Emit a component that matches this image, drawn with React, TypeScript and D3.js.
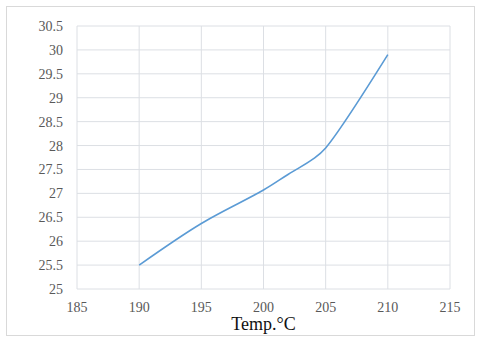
import { useRef, useEffect } from 'react';
import * as d3 from 'd3';

// temperature (°C) vs measured value
const temps = [190, 195, 200, 202, 204, 205, 210];
const values = [25.5, 26.37, 27.07, 27.4, 27.72, 27.95, 29.9];

const xTicks = [185, 190, 195, 200, 205, 210, 215];
const yTicks = [25, 25.5, 26, 26.5, 27, 27.5, 28, 28.5, 29, 29.5, 30, 30.5];

const W = 480;
const H = 342;

export default function App() {
  const svgRef = useRef<SVGSVGElement>(null);

  useEffect(() => {
    const svg = d3.select(svgRef.current);
    svg.selectAll('*').remove();

    const margin = { top: 26, right: 30, bottom: 53, left: 77 };
    const x = d3.scaleLinear().domain([185, 215]).range([margin.left, W - margin.right]);
    const y = d3.scaleLinear().domain([25, 30.5]).range([H - margin.bottom, margin.top]);

    svg.append('rect')
      .attr('width', W).attr('height', H)
      .attr('fill', '#fff');

    // outer chart border
    svg.append('rect')
      .attr('x', 6.5).attr('y', 6.5)
      .attr('width', 468).attr('height', 329)
      .attr('fill', 'none')
      .attr('stroke', '#d9d9d9');

    // grid
    svg.append('g')
      .selectAll('line')
      .data(yTicks)
      .join('line')
      .attr('x1', x(185)).attr('x2', x(215))
      .attr('y1', (d) => y(d)).attr('y2', (d) => y(d))
      .attr('stroke', '#dcdfe4');

    svg.append('g')
      .selectAll('line')
      .data(xTicks)
      .join('line')
      .attr('y1', y(25)).attr('y2', y(30.5))
      .attr('x1', (d) => x(d)).attr('x2', (d) => x(d))
      .attr('stroke', '#dcdfe4');

    // y tick labels
    svg.append('g')
      .selectAll('text')
      .data(yTicks)
      .join('text')
      .attr('x', 63)
      .attr('y', (d) => y(d) + 5)
      .attr('text-anchor', 'end')
      .attr('font-family', '"Liberation Serif", serif')
      .attr('font-size', 14)
      .attr('fill', '#595959')
      .text((d) => String(d));

    // x tick labels
    svg.append('g')
      .selectAll('text')
      .data(xTicks)
      .join('text')
      .attr('x', (d) => x(d))
      .attr('y', y(25) + 23)
      .attr('text-anchor', 'middle')
      .attr('font-family', '"Liberation Serif", serif')
      .attr('font-size', 14)
      .attr('fill', '#595959')
      .text((d) => String(d));

    // axis title
    svg.append('text')
      .attr('x', x(200))
      .attr('y', 330)
      .attr('text-anchor', 'middle')
      .attr('font-family', '"Liberation Serif", serif')
      .attr('font-size', 18)
      .attr('fill', '#111')
      .text('Temp.°C');

    const line = d3.line<number>()
      .x((d, i) => x(temps[i]))
      .y((d) => y(d))
      .curve(d3.curveCatmullRom.alpha(0.5));

    svg.append('path')
      .datum(values)
      .attr('d', line)
      .attr('fill', 'none')
      .attr('stroke', '#5b9bd5')
      .attr('stroke-width', 1.6);
  }, []);

  return (
    <svg
      ref={svgRef}
      width={W}
      height={H}
      style={{ position: 'absolute', left: 0, top: 0 }}
    />
  );
}
